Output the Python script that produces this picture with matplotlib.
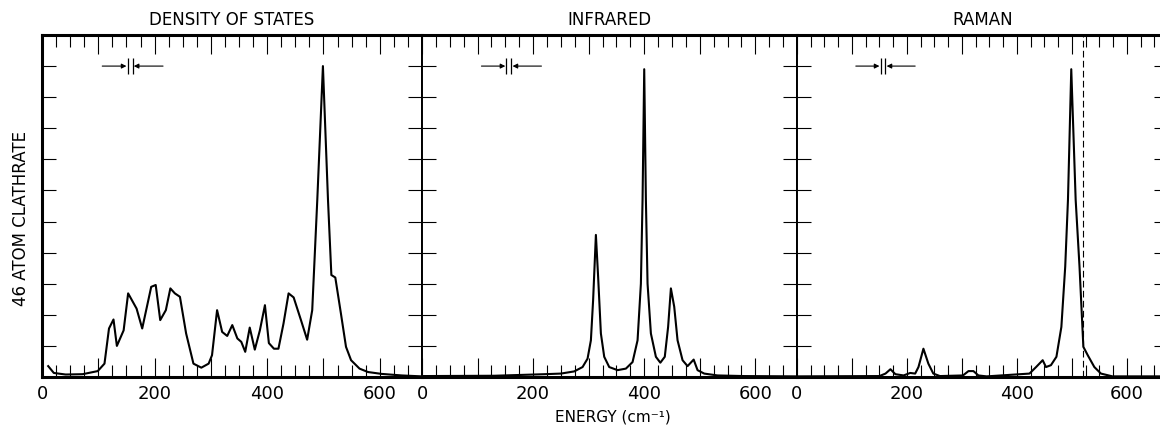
# Phonon spectra of the 46 atom clathrate: density of states, infrared and Raman
# values (energy in cm^-1, intensity in arb. units)
import matplotlib
matplotlib.use('Agg')
import matplotlib.pyplot as plt
from matplotlib.ticker import MultipleLocator

# data
#------------------------------------------------------------------------------
dos_x = [11, 21, 42, 72, 99, 111, 119, 127, 133, 145, 153, 168, 178, 194, 202,
         210, 220, 228, 236, 245, 256, 269, 283, 296, 302, 311, 320, 329, 338,
         347, 354, 361, 369, 378, 387, 396, 403, 412, 420, 429, 438, 447, 460,
         471, 480, 489, 499, 508, 514, 521, 531, 540, 549, 564, 579, 603, 639, 675]
dos_y = [0.35, 0.13, 0.08, 0.09, 0.19, 0.43, 1.56, 1.85, 1.0, 1.5, 2.69, 2.2,
         1.56, 2.9, 2.96, 1.83, 2.15, 2.85, 2.69, 2.58, 1.4, 0.43, 0.3, 0.43,
         0.7, 2.15, 1.45, 1.32, 1.67, 1.24, 1.13, 0.81, 1.59, 0.88, 1.5, 2.31,
         1.09, 0.91, 0.91, 1.72, 2.69, 2.56, 1.83, 1.2, 2.15, 5.7, 10.0, 5.7,
         3.28, 3.2, 2.04, 0.97, 0.54, 0.27, 0.16, 0.1, 0.05, 0.02]

ir_x = [0, 130, 220, 250, 274, 289, 298, 304, 308, 313, 317, 322, 328, 337,
        352, 367, 379, 388, 394, 397, 400, 403, 406, 412, 421, 429, 437, 443,
        448, 454, 460, 469, 478, 489, 496, 508, 532, 580, 675]
ir_y = [0.03, 0.04, 0.09, 0.11, 0.18, 0.32, 0.59, 1.18, 2.47, 4.57, 3.23, 1.4,
        0.65, 0.32, 0.22, 0.27, 0.48, 1.18, 3.0, 5.7, 9.9, 5.7, 3.0, 1.4, 0.65,
        0.46, 0.65, 1.61, 2.85, 2.26, 1.18, 0.54, 0.35, 0.56, 0.22, 0.11, 0.05,
        0.03, 0.02]

raman_x = [0, 150, 161, 170, 179, 194, 206, 215, 221, 230, 239, 248, 260, 302,
           312, 321, 330, 345, 423, 435, 447, 453, 462, 472, 481, 488, 493, 499,
           507, 514, 521, 529, 541, 553, 574, 675]
raman_y = [0.02, 0.03, 0.11, 0.25, 0.09, 0.05, 0.13, 0.11, 0.32, 0.91, 0.43,
           0.11, 0.03, 0.05, 0.19, 0.19, 0.05, 0.02, 0.11, 0.32, 0.54, 0.32,
           0.38, 0.65, 1.61, 3.55, 5.7, 9.9, 5.7, 3.55, 0.97, 0.7, 0.32, 0.11,
           0.02, 0.02]

titles = ['DENSITY OF STATES', 'INFRARED', 'RAMAN']
xtick_pos = [0, 100, 200, 300, 400, 500, 600]
xtick_labels = ['0', '', '200', '', '400', '', '600']
ytick_pos = [1, 2, 3, 4, 5, 6, 7, 8, 9, 10]
raman_cutoff = 520          # dashed line in the Raman panel
res_bars = [152, 161]       # resolution marker |  |
res_arrow_left = [107, 150]
res_arrow_right = [215, 163]
res_level = 10
#------------------------------------------------------------------------------

plt.rcParams['font.family'] = 'DejaVu Sans'

fig = plt.figure(figsize=(11.6, 4.25), dpi=100)

# panel placement in pixels of the 1160x425 canvas (right panel runs off the edge)
W, H = 1160.0, 425.0
bottom = (H - 377) / H
height = (377 - 35) / H
lefts = [42, 422, 797]
widths = [380, 375, 371]

series = [(dos_x, dos_y), (ir_x, ir_y), (raman_x, raman_y)]

for i, (xs, ys) in enumerate(series):
    ax = fig.add_axes([lefts[i] / W, bottom, widths[i] / W, height])
    ax.plot(xs, ys, color='black', lw=1.5)
    ax.set_xlim(0, 675)
    ax.set_ylim(0, 11)

    ax.set_xticks(xtick_pos)
    ax.set_xticklabels(xtick_labels)
    ax.xaxis.set_minor_locator(MultipleLocator(25))
    ax.set_yticks(ytick_pos)
    ax.set_yticklabels([])
    ax.tick_params(axis='x', which='major', direction='in', top=True,
                   length=14, width=0.8, labelsize=13, pad=6)
    ax.tick_params(axis='x', which='minor', direction='in', top=True,
                   length=8.5, width=0.8)
    ax.tick_params(axis='y', which='major', direction='in', right=True,
                   length=10, width=0.8)

    for side in ['top', 'bottom']:
        ax.spines[side].set_linewidth(2.2)
    ax.spines['left'].set_linewidth(2.2 if i == 0 else 1.4)
    ax.spines['right'].set_linewidth(1.4)

    ax.set_title(titles[i], fontsize=12, pad=7)

    # resolution marker  ->||<-
    ax.annotate('', xy=(res_arrow_left[1], res_level), xytext=(res_arrow_left[0], res_level),
                arrowprops=dict(arrowstyle='-|>', color='black', lw=0.8,
                                mutation_scale=7, shrinkA=0, shrinkB=0))
    ax.annotate('', xy=(res_arrow_right[1], res_level), xytext=(res_arrow_right[0], res_level),
                arrowprops=dict(arrowstyle='-|>', color='black', lw=0.8,
                                mutation_scale=7, shrinkA=0, shrinkB=0))
    ax.vlines(res_bars, res_level - 0.27, res_level + 0.27, color='black', lw=0.9)

    if i == 2:
        ax.axvline(raman_cutoff, color='black', lw=0.8, ls=(0, (6, 3)))

fig.text(21 / W, (H - 218) / H, '46 ATOM CLATHRATE', rotation=90,
         ha='center', va='center', fontsize=12)
fig.text(613 / W, (H - 417) / H, 'ENERGY (cm\u207b\u00b9)',
         ha='center', va='center', fontsize=11)

fig.savefig('out.png', dpi=100)
